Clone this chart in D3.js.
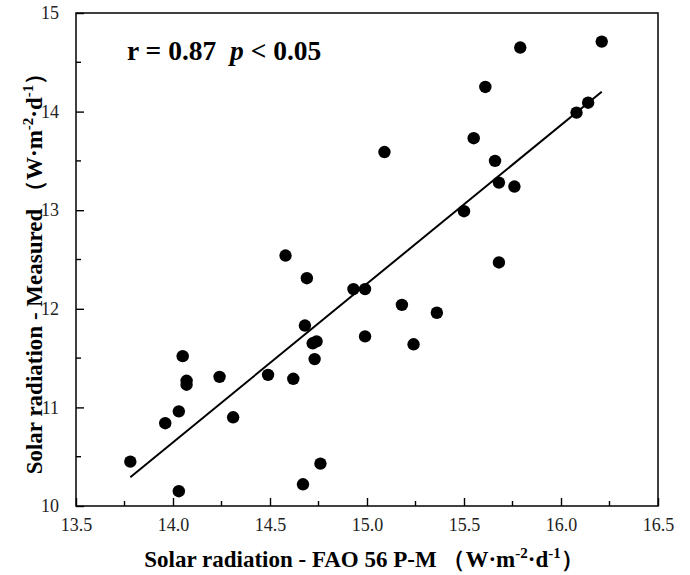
<!DOCTYPE html>
<html>
<head>
<meta charset="utf-8">
<script src="https://cdn.jsdelivr.net/npm/d3@7"></script>
<style>
  body { margin: 0; background: #fff; }
  svg text { font-family: 'Liberation Serif', 'DejaVu Serif', serif !important; }
</style>
</head>
<body>
<script>
// data
var fao = [15.79, 16.21, 15.61, 16.14, 16.08, 15.55, 15.09, 15.66, 15.68, 15.76,
  15.50, 15.68, 14.99, 15.18, 15.36, 14.99, 15.24,
  14.58, 14.69, 14.93, 14.68, 14.72, 14.74, 14.73, 14.05,
  14.07, 14.07, 14.24, 14.49, 14.62, 14.03, 13.96, 14.31, 13.78, 14.76, 14.67, 14.03];
var measured = [14.65, 14.71, 14.25, 14.09, 13.99, 13.73, 13.59, 13.50, 13.28, 13.24,
  12.99, 12.47, 12.20, 12.04, 11.96, 11.72, 11.64,
  12.54, 12.31, 12.20, 11.83, 11.65, 11.67, 11.49, 11.52,
  11.27, 11.23, 11.31, 11.33, 11.29, 10.96, 10.84, 10.90, 10.45, 10.43, 10.22, 10.15];
// fitted line as drawn: y = slope * x + intercept, over fitRange
var fitSlope = 1.609;
var fitIntercept = -11.88;
var fitRange = [13.78, 16.21];

var xTicks = [13.5, 14.0, 14.5, 15.0, 15.5, 16.0, 16.5];
var yTicks = [10, 11, 12, 13, 14, 15];

var width = 690, height = 575;
var margin = {left: 76, right: 32, top: 13, bottom: 69};
var serif = "'Liberation Serif', 'DejaVu Serif', serif";

var svg = d3.select("body").append("svg")
  .attr("width", width)
  .attr("height", height)
  .style("font-family", serif);

var x = d3.scaleLinear().domain([13.5, 16.5]).range([margin.left, width - margin.right]);
var y = d3.scaleLinear().domain([10, 15]).range([height - margin.bottom, margin.top]);

// minor ticks halfway
var xMinor = d3.range(13.75, 16.5, 0.5);
var yMinor = d3.range(10.5, 15, 1);

// frame
svg.append("rect")
  .attr("x", x(13.5))
  .attr("y", y(15))
  .attr("width", x(16.5) - x(13.5))
  .attr("height", y(10) - y(15))
  .attr("fill", "none")
  .attr("stroke", "#111")
  .attr("stroke-width", 1.6);

// bottom axis, ticks pointing inward
var xAxis = svg.append("g")
  .attr("transform", "translate(0," + y(10) + ")")
  .call(d3.axisBottom(x).tickValues(xTicks).tickSizeInner(-8).tickSizeOuter(0)
    .tickFormat(d3.format(".1f")).tickPadding(12));
xAxis.attr("font-family", null).style("font-family", serif);
xAxis.select(".domain").remove();
xAxis.selectAll("line").attr("stroke-width", 1.4);
xAxis.selectAll("text").attr("font-size", 18).attr("fill", "#222");

svg.append("g").selectAll("line").data(xMinor).enter().append("line")
  .attr("x1", function(d) { return x(d); })
  .attr("x2", function(d) { return x(d); })
  .attr("y1", y(10))
  .attr("y2", y(10) - 5)
  .attr("stroke", "#000")
  .attr("stroke-width", 1.4);

// left axis
var yAxis = svg.append("g")
  .attr("transform", "translate(" + x(13.5) + ",0)")
  .call(d3.axisLeft(y).tickValues(yTicks).tickSizeInner(-8).tickSizeOuter(0)
    .tickFormat(d3.format("d")).tickPadding(17));
yAxis.attr("font-family", null).style("font-family", serif);
yAxis.select(".domain").remove();
yAxis.selectAll("line").attr("stroke-width", 1.4);
yAxis.selectAll("text").attr("font-size", 18).attr("fill", "#222");

svg.append("g").selectAll("line").data(yMinor).enter().append("line")
  .attr("x1", x(13.5))
  .attr("x2", x(13.5) + 5)
  .attr("y1", function(d) { return y(d); })
  .attr("y2", function(d) { return y(d); })
  .attr("stroke", "#000")
  .attr("stroke-width", 1.4);

// regression line
svg.append("line")
  .attr("x1", x(fitRange[0]))
  .attr("y1", y(fitSlope * fitRange[0] + fitIntercept))
  .attr("x2", x(fitRange[1]))
  .attr("y2", y(fitSlope * fitRange[1] + fitIntercept))
  .attr("stroke", "#000")
  .attr("stroke-width", 2);

// points
svg.append("g").selectAll("circle").data(fao).enter().append("circle")
  .attr("cx", function(d) { return x(d); })
  .attr("cy", function(d, i) { return y(measured[i]); })
  .attr("r", 6.2)
  .attr("fill", "#000");

// annotation
var note = svg.append("text")
  .attr("x", 127)
  .attr("y", 60)
  .attr("font-size", 27.5)
  .attr("font-weight", "bold");
note.append("tspan").text("r = 0.87\u00A0\u00A0");
note.append("tspan").attr("font-style", "italic").text("p");
note.append("tspan").text(" < 0.05");

// axis titles
function unitTitle(sel, label) {
  sel.append("tspan").text(label + " \uFF08W\u00B7m");
  sel.append("tspan").attr("dy", -9).attr("font-size", 15).text("-2");
  sel.append("tspan").attr("dy", 9).text("\u00B7d");
  sel.append("tspan").attr("dy", -9).attr("font-size", 15).text("-1");
  sel.append("tspan").attr("dy", 9).text("\uFF09");
}

var xt = svg.append("text")
  .attr("x", 364)
  .attr("y", 567)
  .attr("text-anchor", "middle")
  .attr("font-size", 23)
  .attr("font-weight", "bold");
unitTitle(xt, "Solar radiation - FAO 56 P-M");

var yt = svg.append("text")
  .attr("transform", "translate(42,268) rotate(-90)")
  .attr("text-anchor", "middle")
  .attr("font-size", 23)
  .attr("font-weight", "bold");
unitTitle(yt, "Solar radiation - Measured");
</script>
</body>
</html>
